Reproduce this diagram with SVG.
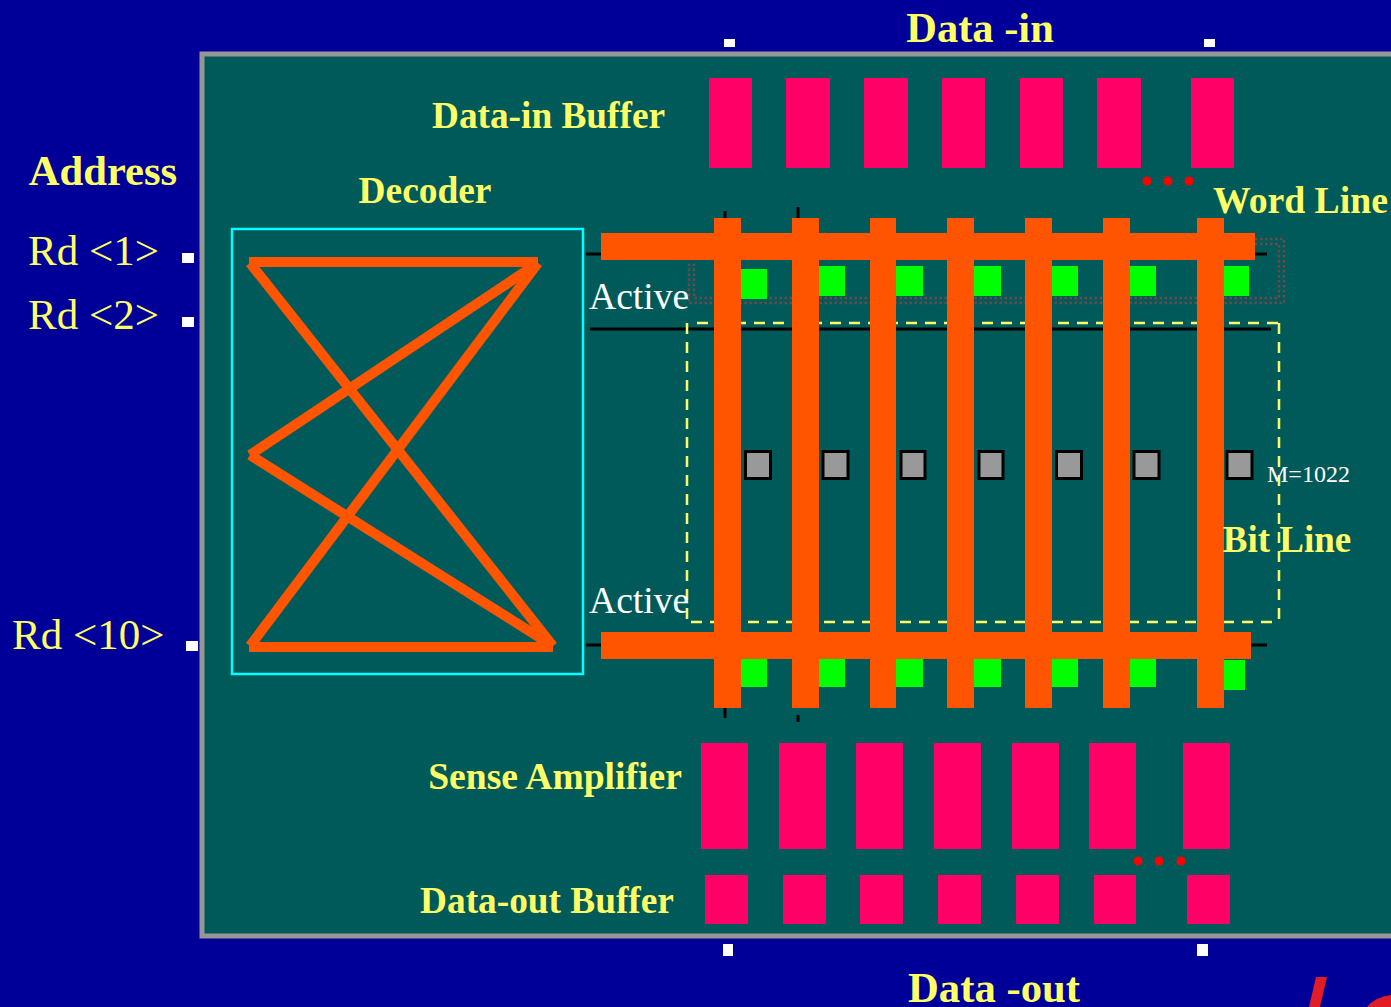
<svg xmlns="http://www.w3.org/2000/svg" width="1391" height="1007" viewBox="0 0 1391 1007">
<style>
.y{font-family:"Liberation Serif",serif;font-weight:bold;fill:#ffff66}
.r{font-family:"Liberation Serif",serif;fill:#ffff66;font-size:43px}
.w{font-family:"Liberation Serif",serif;fill:#fff;font-size:37.600px}
.p{fill:#ff0066}
.o{fill:#ff5500}
.g{fill:#00ff00}
.s{fill:#fff}
.c{fill:#999;stroke:#000;stroke-width:3}
.d{fill:#ff0000}
.k{stroke:#000;stroke-width:3;fill:none}
.x{stroke:#ff5500;stroke-width:10;fill:none}
.h{fill:none;stroke:#ffff66;stroke-width:2.500;stroke-dasharray:11 8}
.t{fill:none;stroke:#6b4a4a;stroke-width:2.500;stroke-dasharray:2.500 2.500}
</style>
<rect width="1391" height="1007" fill="#000099"/>
<rect x="202" y="54" width="1195" height="882" fill="#005a5a" stroke="#969696" stroke-width="5"/>
<path d="M1309 1007 L1316 977 L1327 977 L1320 1007Z" fill="#e01c24"/>
<path d="M1367 1007 Q1375 997 1391 995 L1391 1007Z" fill="#e01c24"/>

<g id="pads">
<rect class="s" x="724" y="39" width="11" height="8"/><rect class="s" x="1204" y="39" width="11" height="8"/>
<rect class="s" x="182" y="253" width="12" height="10"/><rect class="s" x="182" y="317" width="12" height="10"/><rect class="s" x="186" y="641" width="12" height="10"/>
<rect class="s" x="723" y="944" width="10" height="12"/><rect class="s" x="1197" y="944" width="11" height="12"/>
</g>

<g id="data-in-buffer">
<rect class="p" x="709" y="78" width="43" height="90"/><rect class="p" x="786" y="78" width="44" height="90"/><rect class="p" x="864" y="78" width="44" height="90"/><rect class="p" x="942" y="78" width="43" height="90"/><rect class="p" x="1020" y="78" width="43" height="90"/><rect class="p" x="1097" y="78" width="44" height="90"/><rect class="p" x="1191" y="78" width="43" height="90"/>
</g>
<g id="sense-amplifier">
<rect class="p" x="701" y="743" width="47" height="106"/><rect class="p" x="779" y="743" width="47" height="106"/><rect class="p" x="856" y="743" width="47" height="106"/><rect class="p" x="934" y="743" width="47" height="106"/><rect class="p" x="1012" y="743" width="47" height="106"/><rect class="p" x="1089" y="743" width="47" height="106"/><rect class="p" x="1183" y="743" width="47" height="106"/>
</g>
<g id="data-out-buffer">
<rect class="p" x="705" y="875" width="43" height="49"/><rect class="p" x="783" y="875" width="43" height="49"/><rect class="p" x="860" y="875" width="43" height="49"/><rect class="p" x="938" y="875" width="43" height="49"/><rect class="p" x="1016" y="875" width="43" height="49"/><rect class="p" x="1094" y="875" width="42" height="49"/><rect class="p" x="1187" y="875" width="43" height="49"/>
</g>
<g id="dots">
<circle class="d" cx="1147" cy="181" r="4.500"/><circle class="d" cx="1168" cy="181" r="4.500"/><circle class="d" cx="1189" cy="181" r="4.500"/>
<circle class="d" cx="1138" cy="861" r="4.500"/><circle class="d" cx="1159" cy="861" r="4.500"/><circle class="d" cx="1181" cy="861" r="4.500"/>
</g>

<g id="decoder">
<rect x="232" y="229" width="351" height="445" fill="none" stroke="#00ffff" stroke-width="2.500"/>
<g class="x">
<path d="M249 262H538"/>
<path d="M249 647H553"/>
<path d="M250 263L553 646"/>
<path d="M538 263L250 455"/>
<path d="M250 455L553 646"/>
<path d="M538 263L250 646"/>
</g>
</g>

<g id="active-regions">
<path class="t" d="M1255 239H1284V303H689V262"/>
<path class="t" d="M1255 244H1279V298H694V262"/>
<path class="k" d="M590 329H1271"/>
<path class="k" d="M586 254H605M1250 254H1267M586 645H605M1250 645H1267"/>
<path class="k" d="M725 211V222M798 207V222M725 708V718M798 715V722"/>
<path class="h" d="M697 323H1279"/>
<path class="h" d="M1279 323V622"/>
<path class="h" d="M691 622H1279"/>
<path class="h" d="M687 323V622"/>
</g>

<g id="contacts-top">
<rect class="g" x="741" y="269" width="26" height="30"/><rect class="g" x="818" y="266" width="27" height="30"/><rect class="g" x="896" y="266" width="27" height="30"/><rect class="g" x="974" y="266" width="27" height="30"/><rect class="g" x="1052" y="266" width="26" height="30"/><rect class="g" x="1129" y="266" width="27" height="30"/><rect class="g" x="1223" y="266" width="26" height="30"/>
</g>
<g id="contacts-bottom">
<rect class="g" x="741" y="659" width="26" height="28"/><rect class="g" x="818" y="657" width="27" height="30"/><rect class="g" x="896" y="657" width="27" height="30"/><rect class="g" x="974" y="657" width="27" height="30"/><rect class="g" x="1052" y="657" width="26" height="30"/><rect class="g" x="1129" y="657" width="27" height="30"/><rect class="g" x="1223" y="660" width="22" height="30"/>
</g>
<g id="cells">
<rect class="c" x="745.500" y="451.500" width="25" height="27"/><rect class="c" x="823" y="451.500" width="25" height="27"/><rect class="c" x="901" y="451.500" width="24" height="27"/><rect class="c" x="979" y="451.500" width="24" height="27"/><rect class="c" x="1056.500" y="451.500" width="25" height="27"/><rect class="c" x="1134" y="451.500" width="25" height="27"/><rect class="c" x="1227" y="451.500" width="25" height="27"/>
</g>

<g id="word-lines">
<rect class="o" x="601" y="233" width="654" height="27"/>
<rect class="o" x="601" y="632" width="650" height="27"/>
</g>
<g id="bit-lines">
<rect class="o" x="714" y="218" width="27" height="490"/><rect class="o" x="792" y="218" width="27" height="490"/><rect class="o" x="870" y="218" width="26" height="490"/><rect class="o" x="947" y="218" width="27" height="490"/><rect class="o" x="1025" y="218" width="27" height="490"/><rect class="o" x="1103" y="218" width="27" height="490"/><rect class="o" x="1197" y="218" width="27" height="490"/>
</g>

<g id="labels">
<text class="y" x="980" y="41.500" font-size="42.500" text-anchor="middle">Data -in</text>
<text class="y" x="548.500" y="127.500" font-size="37.300" text-anchor="middle">Data-in Buffer</text>
<text class="y" x="103" y="185" font-size="42.600" text-anchor="middle">Address</text>
<text class="y" x="425" y="202.500" font-size="37.400" text-anchor="middle">Decoder</text>
<text class="y" x="1300.500" y="212.500" font-size="37.700" text-anchor="middle">Word Line</text>
<text class="r" x="28" y="265">Rd &lt;1&gt;</text>
<text class="r" x="28" y="329">Rd &lt;2&gt;</text>
<text class="r" x="12" y="649">Rd &lt;10&gt;</text>
<text class="w" x="589" y="308.500">Active</text>
<text class="w" x="589" y="612.500">Active</text>
<text x="1267" y="482" font-size="24" fill="#fff" font-family="Liberation Serif,serif">M=1022</text>
<text class="y" x="1287" y="551.500" font-size="37" text-anchor="middle">Bit Line</text>
<text class="y" x="555" y="788.500" font-size="37.600" text-anchor="middle">Sense Amplifier</text>
<text class="y" x="547" y="912.500" font-size="37.300" text-anchor="middle">Data-out Buffer</text>
<text class="y" x="994" y="1001.500" font-size="42.700" text-anchor="middle">Data -out</text>
</g>
</svg>
